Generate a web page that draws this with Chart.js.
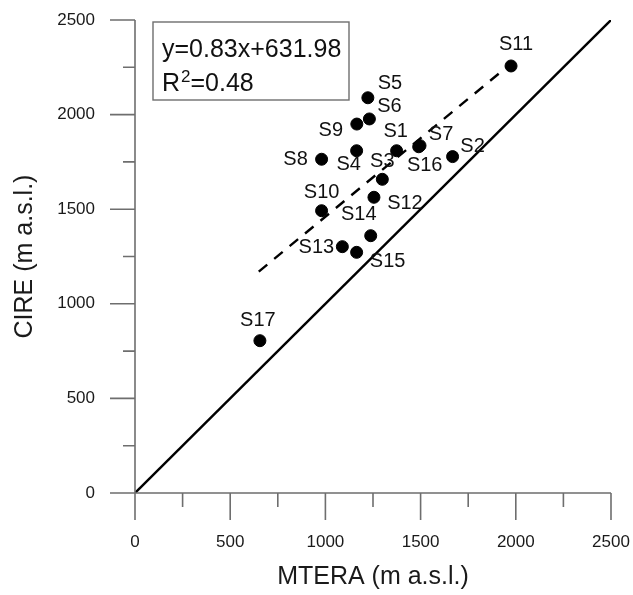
<!DOCTYPE html>
<html>
<head>
<meta charset="utf-8">
<script src="https://cdn.jsdelivr.net/npm/chart.js@4.4.1/dist/chart.umd.min.js"></script>
<style>
  html, body { margin: 0; padding: 0; background: #fff; }
  #wrap { width: 633px; height: 595px; position: relative; }
</style>
</head>
<body>
<div id="wrap"><canvas id="c" width="633" height="595"></canvas></div>
<script>
// ---- data ----
const siteNames = ['S1','S2','S3','S4','S5','S6','S7','S8','S9','S10','S11','S12','S13','S14','S15','S16','S17'];
const mteraValues = [1374,1668,1299,1164,1223,1231,1497,980,1165,980,1975,1255,1089,1238,1164,1490,656];
const cireValues  = [1809,1778,1658,1809,2089,1977,1836,1764,1950,1492,2257,1563,1302,1360,1272,1830,805];
const oneToOneX = [0, 2500];
const oneToOneY = [0, 2500];
const regressionX = [650, 1975];
const regressionY = [1170, 2270];
const xTickValues = [0, 500, 1000, 1500, 2000, 2500];
const yTickValues = [0, 500, 1000, 1500, 2000, 2500];
const equationText = 'y=0.83x+631.98';
const r2Text = '0.48';
const xTitle = 'MTERA (m a.s.l.)';
const yTitle = 'CIRE (m a.s.l.)';

// label offsets (pixels, relative to each dot) – style only
const labelOffsets = {
  S1:[-1,-19], S2:[20,-10], S3:[0,-18], S4:[-8,14], S5:[22,-14], S6:[20,-12],
  S7:[21,-11], S8:[-26,0], S9:[-26,6], S10:[0,-18], S11:[5,-21], S12:[31,6],
  S13:[-26,1], S14:[-12,-21], S15:[31,9], S16:[6,19], S17:[-2,-20]
};

const FONT = "'Liberation Sans', Arial, sans-serif";
const points = siteNames.map((n, i) => ({ x: mteraValues[i], y: cireValues[i], name: n }));

const axesPlugin = {
  id: 'axesPlugin',
  afterDraw(chart) {
    const ctx = chart.ctx;
    const xs = chart.scales.x, ys = chart.scales.y;
    const x0 = xs.getPixelForValue(0), x1 = xs.getPixelForValue(2500);
    const y0 = ys.getPixelForValue(0), y1 = ys.getPixelForValue(2500);
    ctx.save();
    ctx.strokeStyle = '#6e6e6e';
    ctx.lineWidth = 1.6;
    ctx.beginPath();
    ctx.moveTo(x0, y1); ctx.lineTo(x0, y0);
    ctx.moveTo(x0, y0); ctx.lineTo(x1, y0);
    for (let v = 0; v <= 2500; v += 250) {
      const p = xs.getPixelForValue(v);
      const len = (v % 500 === 0) ? 27 : 14;
      ctx.moveTo(p, y0); ctx.lineTo(p, y0 + len);
    }
    for (let v = 0; v <= 2500; v += 250) {
      const p = ys.getPixelForValue(v);
      const len = (v % 500 === 0) ? 25 : 12;
      ctx.moveTo(x0, p); ctx.lineTo(x0 - len, p);
    }
    ctx.stroke();

    // point labels
    ctx.fillStyle = '#111';
    ctx.font = '20px ' + FONT;
    ctx.textAlign = 'center';
    ctx.textBaseline = 'middle';
    points.forEach(p => {
      const px = xs.getPixelForValue(p.x), py = ys.getPixelForValue(p.y);
      const o = labelOffsets[p.name] || [0, -18];
      ctx.fillText(p.name, px + o[0], py + o[1]);
    });

    // equation box
    const bx = 153, by = 22, bw = 196, bh = 78;
    ctx.strokeStyle = '#6e6e6e';
    ctx.lineWidth = 1.4;
    ctx.strokeRect(bx, by, bw, bh);
    ctx.fillStyle = '#111';
    ctx.textAlign = 'left';
    ctx.textBaseline = 'alphabetic';
    ctx.font = '25px ' + FONT;
    ctx.fillText(equationText, 162, 57);
    ctx.fillText('R', 162, 91);
    const rw = ctx.measureText('R').width;
    ctx.font = '17px ' + FONT;
    ctx.fillText('2', 162 + rw + 1, 82);
    const sw = ctx.measureText('2').width;
    ctx.font = '25px ' + FONT;
    ctx.fillText('=' + r2Text, 162 + rw + 1 + sw, 91);
    ctx.restore();
  }
};

function zeroPad(s) { s.paddingTop = 0; s.paddingBottom = 0; s.paddingLeft = 0; s.paddingRight = 0; }

new Chart(document.getElementById('c'), {
  type: 'scatter',
  data: {
    datasets: [
      {
        label: '1:1',
        type: 'line',
        data: oneToOneX.map((x, i) => ({ x, y: oneToOneY[i] })),
        borderColor: '#000',
        borderWidth: 2.4,
        pointRadius: 0,
        fill: false,
        order: 2
      },
      {
        label: 'regression',
        type: 'line',
        data: regressionX.map((x, i) => ({ x, y: regressionY[i] })),
        borderColor: '#000',
        borderWidth: 2.4,
        borderDash: [11, 9],
        pointRadius: 0,
        fill: false,
        order: 3
      },
      {
        label: 'sites',
        data: points,
        backgroundColor: '#000',
        borderColor: '#000',
        pointRadius: 6,
        pointHoverRadius: 6,
        order: 1
      }
    ]
  },
  options: {
    responsive: false,
    animation: false,
    events: [],
    layout: { padding: { top: 20, right: 22, left: 0, bottom: 0 } },
    plugins: { legend: { display: false }, tooltip: { enabled: false } },
    scales: {
      x: {
        type: 'linear',
        min: 0, max: 2500,
        afterBuildTicks: s => { s.ticks = xTickValues.map(v => ({ value: v })); },
        afterFit: s => { s.height = 102; zeroPad(s); },
        grid: { display: false, drawTicks: false },
        border: { display: false },
        ticks: { padding: 39, color: '#1a1a1a', font: { family: FONT, size: 17 }, maxRotation: 0, callback: v => String(v) },
        title: { display: true, text: xTitle, color: '#1a1a1a', font: { family: FONT, size: 25 }, padding: { top: 0, bottom: 3 } }
      },
      y: {
        type: 'linear',
        min: 0, max: 2500,
        afterBuildTicks: s => { s.ticks = yTickValues.map(v => ({ value: v })); },
        afterFit: s => { s.width = 135; zeroPad(s); },
        grid: { display: false, drawTicks: false },
        border: { display: false },
        ticks: { padding: 40, color: '#1a1a1a', font: { family: FONT, size: 17 }, callback: v => String(v) },
        title: { display: true, text: yTitle, color: '#1a1a1a', font: { family: FONT, size: 25 }, padding: { top: 10, bottom: 0 } }
      }
    }
  },
  plugins: [axesPlugin]
});
</script>
</body>
</html>
